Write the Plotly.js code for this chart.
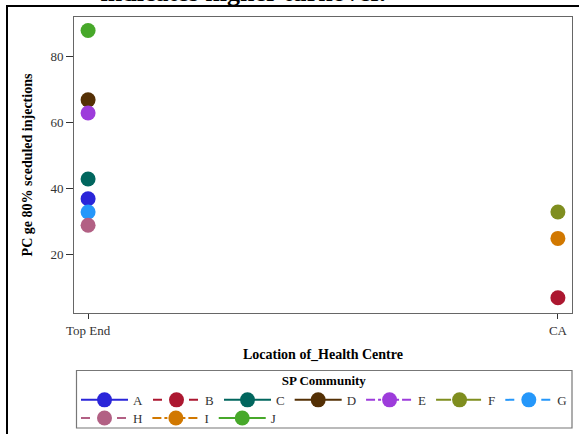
<!DOCTYPE html>
<html>
<head>
<meta charset="utf-8">
<script src="https://cdn.plot.ly/plotly-3.0.1.min.js"></script>
<style>
  html, body { margin: 0; padding: 0; background: #fff; overflow: hidden; }
  #chart { width: 579px; height: 434px; }
  #frame { position: absolute; left: 6px; top: 5px; width: 700px; height: 600px;
           border-left: 2px solid #000; border-top: 2px solid #000; pointer-events: none; }
</style>
</head>
<body>
<div id="chart"></div>
<div id="frame"></div>
<script>
// ---- data ----
const categories = ['Top End', 'CA'];
const communities = ['A', 'B', 'C', 'D', 'E', 'F', 'G', 'H', 'I', 'J'];
const locations = ['Top End', 'CA', 'Top End', 'Top End', 'Top End', 'CA', 'Top End', 'Top End', 'CA', 'Top End'];
const pctValues = [37, 7, 43, 67, 63, 33, 33, 29, 25, 88];
const yTicks = [20, 40, 60, 80];

// ---- styles ----
const colors = ['#2a25d9', '#ac1730', '#01665e', '#543005', '#9d3cdb', '#7f8e1f', '#2597fa', '#b26084', '#d17800', '#47a82a'];
const dashes = ['solid', 'dash', 'solid', 'solid', 'dashdot', 'longdash', 'dash', 'dash', 'dashdot', 'solid'];
const perRow = 7;

const serif = 'Liberation Serif, Times New Roman, serif';

const traces = communities.map((c, i) => ({
  type: 'scatter',
  mode: 'lines+markers',
  name: c,
  x: [locations[i]],
  y: [pctValues[i]],
  legend: i < perRow ? 'legend' : 'legend2',
  marker: { color: colors[i], size: 15 },
  line: { color: colors[i], dash: dashes[i], width: 2 },
  hoverinfo: 'x+y+name'
}));

// plot area in pixels: left 74, right 572, top 17, bottom 313
const pxToPaperY = py => (313 - py) / 296;
const pxToPaperX = px => (px - 74) / 498;

const legendCommon = {
  orientation: 'h',
  xanchor: 'left',
  yanchor: 'top',
  borderwidth: 0,
  bgcolor: 'rgba(0,0,0,0)',
  itemwidth: 47,
  tracegroupgap: 0,
  font: { family: serif, size: 13, color: '#333' }
};

const layout = {
  width: 579,
  height: 434,
  margin: { l: 74, r: 7, t: 17, b: 121, autoexpand: false },
  paper_bgcolor: '#fff',
  plot_bgcolor: '#fff',
  font: { family: serif, color: '#333', size: 13 },
  showlegend: true,
  title: {
    text: '<b>indicates higher turnover.</b>',
    font: { family: serif, size: 26, color: '#000' },
    xref: 'container', yref: 'container',
    x: 0.42, xanchor: 'center',
    y: 1 - 1.2 / 434, yanchor: 'bottom'
  },
  xaxis: {
    type: 'category',
    categoryorder: 'array',
    categoryarray: categories,
    range: [-0.03, 1.03],
    showgrid: false,
    zeroline: false,
    showline: true, mirror: true, linecolor: '#666', linewidth: 1,
    ticks: 'outside', ticklen: 5, tickcolor: '#333',
    tickfont: { family: serif, size: 13, color: '#333' },
    title: { text: '<b>Location of_Health Centre</b>', font: { family: serif, size: 14, color: '#000' }, standoff: 12 }
  },
  yaxis: {
    range: [2.4, 92.1],
    tickvals: yTicks,
    showgrid: false,
    zeroline: false,
    showline: true, mirror: true, linecolor: '#666', linewidth: 1,
    ticks: 'outside', ticklen: 7, tickcolor: '#333',
    tickfont: { family: serif, size: 13, color: '#333' },
    title: { text: '<b>PC ge 80% sceduled injections</b>', font: { family: serif, size: 14, color: '#000' }, standoff: 14 }
  },
  legend: Object.assign({}, legendCommon, {
    x: pxToPaperX(76), y: pxToPaperY(368),
    title: { text: '<b>SP Community</b>', side: 'top center', font: { family: serif, size: 13, color: '#000' } }
  }),
  legend2: Object.assign({}, legendCommon, {
    x: pxToPaperX(76), y: pxToPaperY(403)
  }),
  shapes: [{
    type: 'rect', xref: 'paper', yref: 'paper', layer: 'below',
    x0: pxToPaperX(76.5), x1: pxToPaperX(572), y0: pxToPaperY(428), y1: pxToPaperY(370.5),
    line: { color: '#777', width: 1.2 }, fillcolor: 'rgba(0,0,0,0)'
  }]
};

Plotly.newPlot('chart', traces, layout, { displayModeBar: false, staticPlot: true });
</script>
</body>
</html>
